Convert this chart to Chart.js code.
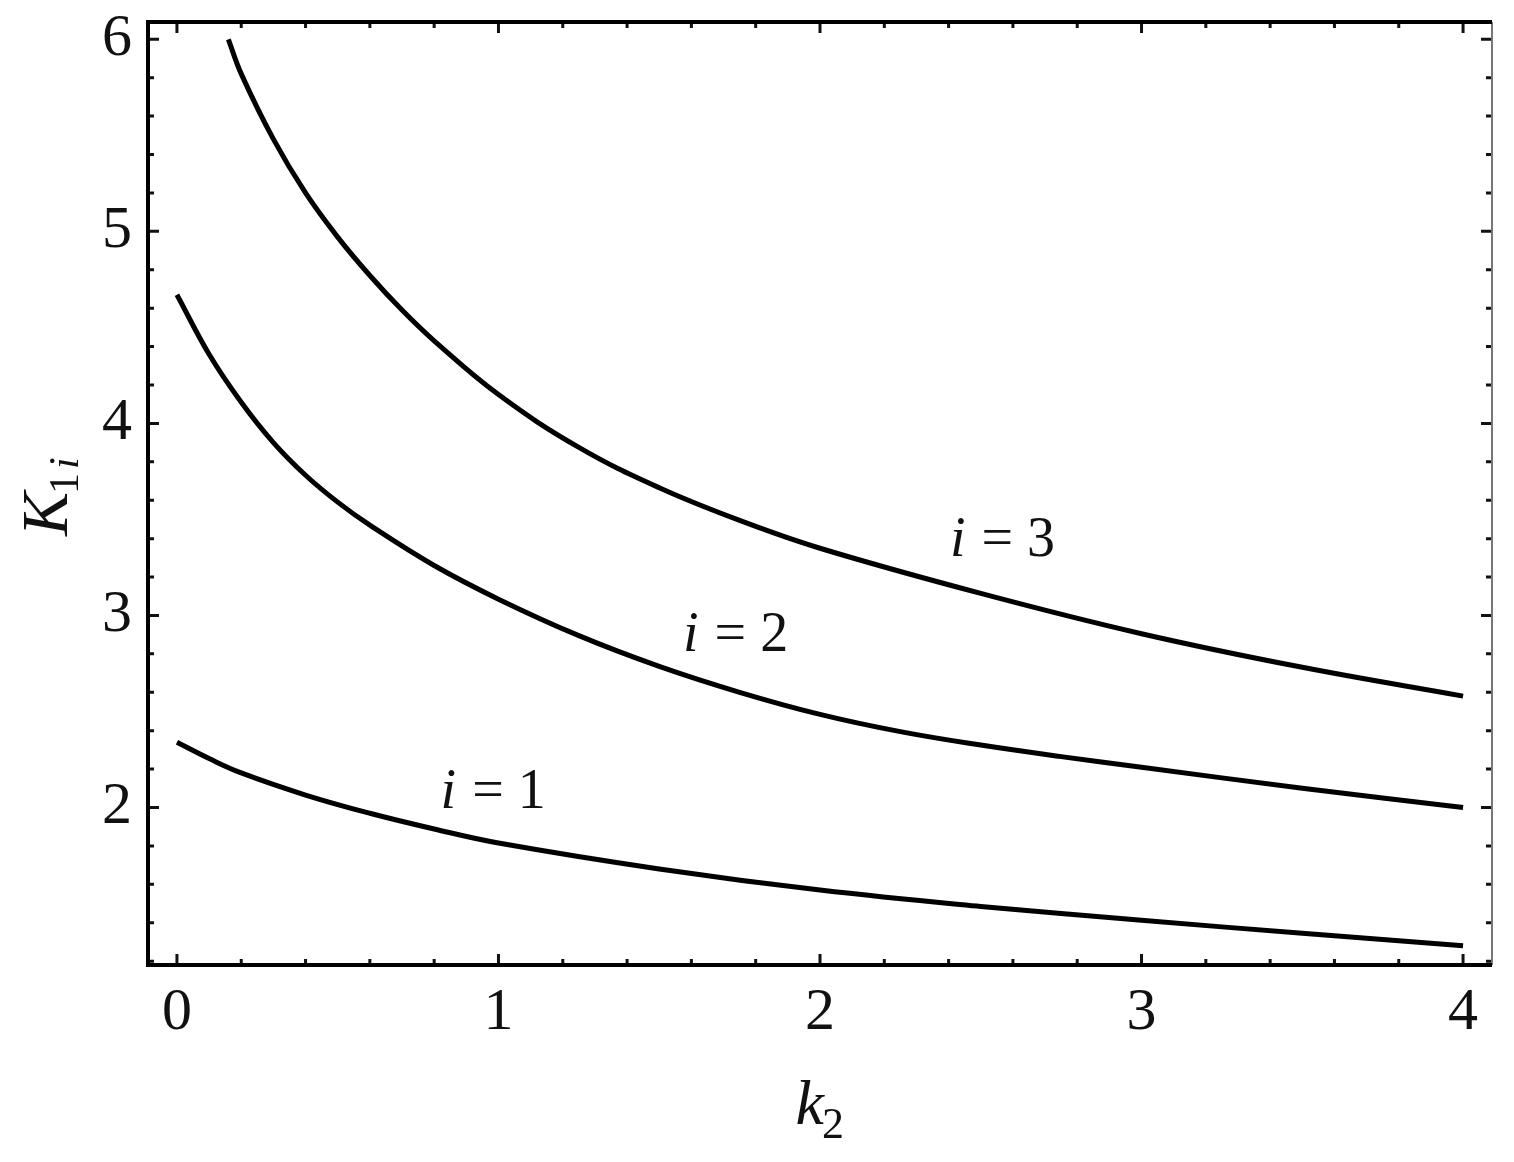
<!DOCTYPE html>
<html>
<head>
<meta charset="utf-8">
<script src="https://cdn.jsdelivr.net/npm/chart.js@4.4.1/dist/chart.umd.min.js"></script>
<style>
    html, body { margin: 0; padding: 0; background: #fff; }
    #wrap { width: 1514px; height: 1162px; }
</style>
</head>
<body>
<div id="wrap"><canvas id="chart"></canvas></div>
<script>
// k2 values and K_1i values, one pair of arrays per curve
const k2_i1 = [0, 0.1, 0.2, 0.4, 0.6, 0.8, 1.0, 1.5, 2.0, 2.5, 3.0, 3.5, 4.0];
const K_i1  = [2.34, 2.255, 2.18, 2.065, 1.97, 1.888, 1.815, 1.68, 1.57, 1.485, 1.413, 1.345, 1.28];

const k2_i2 = [0, 0.1, 0.2, 0.3, 0.4, 0.5, 0.6, 0.8, 1.0, 1.25, 1.5, 1.75, 2.0, 2.25, 2.5, 2.75, 3.0, 3.5, 4.0];
const K_i2  = [4.67, 4.36, 4.11, 3.90, 3.73, 3.59, 3.47, 3.26, 3.085, 2.895, 2.735, 2.60, 2.485, 2.395, 2.325, 2.265, 2.21, 2.10, 2.00];

const k2_i3 = [0.16, 0.2, 0.3, 0.4, 0.5, 0.6, 0.7, 0.8, 1.0, 1.25, 1.5, 1.75, 2.0, 2.5, 3.0, 3.5, 4.0];
const K_i3  = [6.00, 5.82, 5.48, 5.20, 4.97, 4.77, 4.59, 4.43, 4.15, 3.875, 3.665, 3.495, 3.35, 3.115, 2.905, 2.73, 2.58];

// curve labels, placed at data coordinates
const curveNames = ['1', '2', '3'];
const labelK2 = [0.82, 1.574, 2.404];
const labelK1 = [2.0, 2.816, 3.312];

const SERIF = '"Liberation Serif", "DejaVu Serif", serif';

function points(xs, ys) {
    return xs.map((x, i) => ({x: x, y: ys[i]}));
}

function isWhole(v) {
    return Math.abs(v - Math.round(v)) < 1e-6;
}

function stepTicks(from, to, step) {
    const out = [];
    const n = Math.round((to - from) / step);
    for (let i = 0; i <= n; i++) {
        out.push({value: Math.round((from + i * step) * 1000) / 1000});
    }
    return out;
}

function noPadding(s) {
    s.paddingTop = 0;
    s.paddingBottom = 0;
    s.paddingLeft = 0;
    s.paddingRight = 0;
}

const curve = {
    borderColor: '#000',
    borderWidth: 5,
    pointRadius: 0,
    fill: false,
    tension: 0.4,
    borderCapStyle: 'butt'
};

const framePlugin = {
    id: 'frame',
    afterDraw(chart) {
        const ctx = chart.ctx;
        const a = chart.chartArea;
        const xs = chart.scales.x;
        const ys = chart.scales.y;
        ctx.save();

        // inward tick marks on all four sides
        ctx.strokeStyle = '#111';
        ctx.lineWidth = 3;
        xs.ticks.forEach(t => {
            const px = xs.getPixelForValue(t.value);
            const len = isWhole(t.value) ? 11 : 6;
            ctx.beginPath();
            ctx.moveTo(px, a.bottom);
            ctx.lineTo(px, a.bottom - len);
            ctx.moveTo(px, a.top);
            ctx.lineTo(px, a.top + len);
            ctx.stroke();
        });
        ys.ticks.forEach(t => {
            const py = ys.getPixelForValue(t.value);
            const len = isWhole(t.value) ? 11 : 6;
            ctx.beginPath();
            ctx.moveTo(a.left, py);
            ctx.lineTo(a.left + len, py);
            ctx.moveTo(a.right, py);
            ctx.lineTo(a.right - len, py);
            ctx.stroke();
        });

        // frame
        ctx.strokeStyle = '#777';
        ctx.lineWidth = 2;
        ctx.beginPath();
        ctx.moveTo(a.right, a.top);
        ctx.lineTo(a.right, a.bottom);
        ctx.stroke();

        ctx.strokeStyle = '#000';
        ctx.lineWidth = 4;
        ctx.beginPath();
        ctx.moveTo(a.right, a.top);
        ctx.lineTo(a.left, a.top);
        ctx.lineTo(a.left, a.bottom);
        ctx.lineTo(a.right, a.bottom);
        ctx.stroke();

        // curve labels: italic i, upright "= n"
        ctx.fillStyle = '#111';
        ctx.textBaseline = 'alphabetic';
        ctx.textAlign = 'left';
        curveNames.forEach((n, i) => {
            const px = xs.getPixelForValue(labelK2[i]);
            const py = ys.getPixelForValue(labelK1[i]);
            ctx.font = 'italic 56px ' + SERIF;
            ctx.fillText('i', px, py);
            const w = ctx.measureText('i').width;
            ctx.font = '56px ' + SERIF;
            ctx.fillText(' = ' + n, px + w + 2, py);
        });

        // x axis title: k with subscript 2
        ctx.font = 'italic 64px ' + SERIF;
        const kw = ctx.measureText('k').width;
        const cx = (a.left + a.right) / 2 + 4;
        ctx.fillText('k', cx - kw, 1124);
        ctx.font = '44px ' + SERIF;
        ctx.fillText('2', cx - 2, 1138);

        // y axis title: K with subscript 1 i, rotated
        ctx.translate(67, 536);
        ctx.rotate(-Math.PI / 2);
        ctx.font = 'italic 66px ' + SERIF;
        ctx.fillText('K', 0, 0);
        let off = ctx.measureText('K').width - 2;
        ctx.font = '42px ' + SERIF;
        ctx.fillText('1', off, 11);
        off += ctx.measureText('1').width + 4;
        ctx.font = 'italic 42px ' + SERIF;
        ctx.fillText('i', off, 11);

        ctx.restore();
    }
};

new Chart(document.getElementById('chart'), {
    type: 'line',
    data: {
        datasets: [
            Object.assign({label: 'i = 1', data: points(k2_i1, K_i1)}, curve),
            Object.assign({label: 'i = 2', data: points(k2_i2, K_i2)}, curve),
            Object.assign({label: 'i = 3', data: points(k2_i3, K_i3)}, curve)
        ]
    },
    options: {
        responsive: true,
        maintainAspectRatio: false,
        animation: false,
        layout: {padding: {top: 22, right: 22, left: 0, bottom: 0}},
        plugins: {
            legend: {display: false},
            tooltip: {enabled: false}
        },
        scales: {
            x: {
                type: 'linear',
                min: -0.09,
                max: 4.09,
                afterBuildTicks: s => { s.ticks = stepTicks(0, 4, 0.2); },
                afterFit: s => { s.height = 197; noPadding(s); },
                grid: {display: false, drawTicks: false},
                border: {display: false},
                ticks: {
                    autoSkip: false,
                    maxRotation: 0,
                    padding: 12,
                    color: '#111',
                    font: {family: SERIF, size: 60},
                    callback: v => isWhole(v) ? String(Math.round(v)) : ''
                }
            },
            y: {
                type: 'linear',
                min: 1.18,
                max: 6.09,
                afterBuildTicks: s => { s.ticks = stepTicks(1.2, 6.0, 0.2); },
                afterFit: s => { s.width = 148; noPadding(s); },
                grid: {display: false, drawTicks: false},
                border: {display: false},
                ticks: {
                    autoSkip: false,
                    padding: 16,
                    color: '#111',
                    font: {family: SERIF, size: 60},
                    callback: v => isWhole(v) ? String(Math.round(v)) : ''
                }
            }
        }
    },
    plugins: [framePlugin]
});
</script>
</body>
</html>
